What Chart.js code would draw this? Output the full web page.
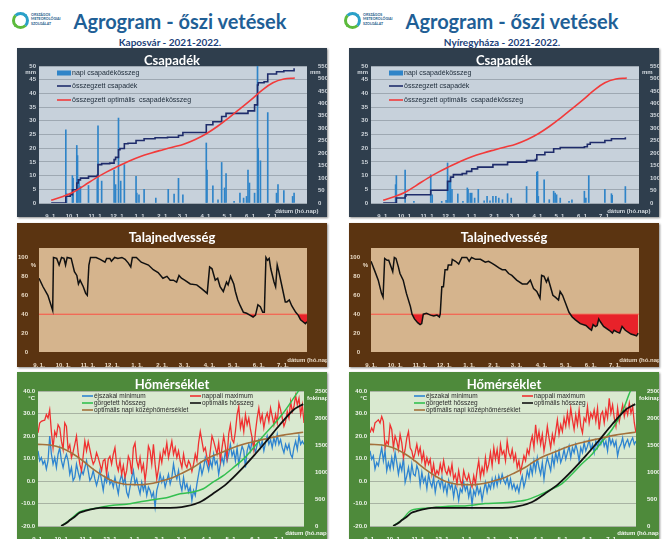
<!DOCTYPE html>
<html>
<head>
<meta charset="utf-8">
<script src="https://cdn.jsdelivr.net/npm/chart.js@4.4.1/dist/chart.umd.min.js"></script>
<style>
  body { margin: 0; background: #fff; width: 662px; height: 539px; overflow: hidden; position: relative; font-family: Lato, 'Liberation Sans', sans-serif; }
  .panel { position: absolute; box-shadow: 1px 1px 2px rgba(0,0,0,0.45); }
  .panel canvas { position: absolute; left: 0; top: 0; }
  .ptitle { position: absolute; left: 0; width: 100%; text-align: center; color: #fff; font-weight: bold; font-size: 13px; line-height: 16px; }
  .title { position: absolute; width: 300px; text-align: center; color: #1f5f96; font-weight: bold; font-size: 20px; line-height: 24px; top: 9px; }
  .sub { position: absolute; width: 200px; text-align: center; color: #1b3f78; font-weight: bold; font-size: 10px; line-height: 12px; top: 36px; }
  .logo { position: absolute; top: 12px; }
  .logo .swirl { position: absolute; left: 0; top: 0; width: 11px; height: 11px; border-radius: 50%; border: 3px solid #2aa0c8; border-left-color: #5cba3c; border-bottom-color: #5cba3c; }
  .logo .txt { position: absolute; left: 19px; top: 1px; width: 40px; font-size: 3.6px; line-height: 4.3px; color: #1d5c8a; font-weight: bold; }
</style>
</head>
<body>
<script>
// x axis: days from 1 September
const monthDays = [0, 30, 61, 91, 122, 153, 181, 212, 242, 273, 303];
const monthLabels = ['9. 1.', '10. 1.', '11. 1.', '12. 1.', '1. 1.', '2. 1.', '3. 1.', '4. 1.', '5. 1.', '6. 1.', '7. 1.'];
const lastDay = 333;
const dateAxisLabel = 'dátum (hó.nap)';

// Csapadék - napi csapadékösszeg [nap, mm]
const kaposvarRain = [[20,26.7],[21,3.5],[29,10],[30,9],[35,21],[36,17.3],[38,8.5],[40,6],[51,6.4],[63,8.5],[64,28.2],[69,8],
  [86,12],[88,6.7],[92,31],[95,8],[100,14],[116,9.7],[117,3.6],[120,3],[127,5],[143,1.8],[160,5],[168,3.3],[174,9],[180,3],
  [212,21.9],[213,12],[221,6.3],[228,1.2],[233,14.8],[237,5.5],[239,10.7],[250,0.6],[258,3.6],[263,1.8],[267,2.4],[269,12],
  [271,7.3],[278,3.6],[282,68],[283,20],[286,15.4],[296,33],[308,3.6],[310,6.7],[318,4.5],[330,2.4],[332,3.6]];
const nyiregyhazaRain = [[17,6.7],[18,10],[30,12],[42,0.6],[65,10.3],[67,3],[80,0.6],[86,1],[88,14.6],[90,7.5],[92,9],[94,5],
  [102,3.3],[109,0.6],[115,5.5],[116,5],[119,3.6],[121,3.6],[125,1.8],[130,5],[138,0.8],[142,2.4],[146,0.8],[150,2.4],[154,2.4],
  [158,1.8],[163,1.2],[170,3.4],[175,1.8],[196,6],[210,11.2],[211,11.5],[212,2.4],[220,8.5],[227,1.2],[233,4.3],[235,3.6],
  [237,3],[242,1.8],[254,0.6],[258,1.2],[275,4.3],[277,1.8],[281,10],[303,5],[312,3.4],[313,2.8],[331,6]];

// összegzett csapadék [nap, mm]
const kaposvarRainSum = [[0,0],[19,0],[20,27],[26,33],[29,53],[35,80],[37,93],[40,100],[51,107],[63,111],[64,154],[69,158],
  [80,160],[86,174],[88,183],[92,214],[94,219],[100,238],[105,240],[116,251],[127,258],[142,262],[159,264],[174,271],[180,283],
  [208,283],[212,314],[221,326],[233,347],[239,360],[258,360],[269,370],[278,394],[282,474],[283,483],[291,487],[296,518],
  [308,527],[318,531],[332,541]];
const nyiregyhazaRainSum = [[0,0],[16,0],[18,20],[30,27],[31,33],[63,33],[65,51],[86,51],[88,87],[92,104],[96,114],[108,118],
  [114,127],[121,137],[129,144],[150,154],[170,164],[196,170],[208,174],[210,194],[221,204],[233,218],[242,223],[275,226],
  [279,236],[283,243],[303,251],[312,258],[331,264]];

// összegzett optimális csapadékösszeg [nap, mm]
const optimalRainSum = [[0,11],[15,25],[30,43],[45,70],[61,100],[76,125],[91,147],[106,168],[122,187],[137,201],[153,214],
  [167,225],[181,236],[197,255],[212,278],[227,307],[242,340],[258,378],[273,414],[288,452],[303,483],[318,498],[333,502]];

// Talajnedvesség [nap, %]
const kaposvarSoil = [[0,78],[5,69],[11,60],[17,44],[18,100],[22,99],[25,92],[28,100],[31,99],[33,92],[35,100],[40,99],[44,85],
  [47,81],[49,72],[51,76],[55,69],[58,62],[60,60],[62,92],[64,100],[71,100],[76,98],[82,95],[84,99],[88,99],[90,96],[94,100],
  [98,99],[103,100],[107,98],[111,94],[114,90],[116,100],[121,100],[127,95],[136,92],[142,87],[148,84],[154,78],[159,80],
  [163,76],[167,76],[171,74],[174,81],[177,78],[181,76],[188,72],[196,71],[202,67],[209,62],[212,90],[215,88],[219,76],
  [222,78],[225,69],[229,64],[233,74],[235,71],[238,80],[242,72],[244,64],[247,55],[250,49],[254,42],[258,41],[262,39],
  [266,37],[269,39],[272,50],[275,48],[278,42],[280,42],[282,100],[284,97],[286,99],[288,88],[292,74],[294,69],[296,92],
  [298,85],[302,69],[306,53],[308,53],[311,55],[314,49],[319,42],[322,39],[325,34],[328,32],[331,30],[333,32]];
const nyiregyhazaSoil = [[0,96],[5,85],[9,76],[13,62],[15,58],[17,99],[20,97],[22,97],[25,90],[27,85],[29,100],[31,99],[34,90],
  [36,83],[40,76],[44,62],[49,48],[51,40],[54,35],[58,31],[61,29],[63,30],[65,40],[69,41],[74,39],[78,38],[82,39],[85,37],
  [86,40],[88,69],[90,69],[92,87],[95,87],[96,92],[100,92],[101,98],[105,96],[109,93],[113,100],[119,100],[122,96],[125,100],
  [130,98],[136,98],[142,95],[146,96],[150,94],[154,92],[159,89],[163,87],[167,87],[171,83],[175,81],[181,76],[188,72],
  [194,72],[198,76],[202,67],[206,64],[210,57],[212,81],[215,80],[218,74],[220,78],[223,69],[226,60],[229,58],[233,55],
  [235,64],[238,60],[242,51],[246,42],[250,37],[254,34],[260,30],[267,28],[271,25],[274,23],[276,29],[279,27],[281,28],
  [283,35],[285,32],[289,27],[296,23],[300,20],[302,23],[306,21],[309,20],[312,27],[316,23],[323,19],[327,18],[330,17],[332,20]];
const soilLimit = 40;

// Hőmérséklet - napi értékek (kb. kétnaponta) [°C]
const kaposvarMax = [21.4,25.8,26.5,26.8,27,29.5,28,31.6,22,14.8, 22,20,25,23.6,17.7,14,25.8,24.3,14,16,
  10.4,13,16.3,20,12.6,7.5,4.6,11,17.7,13.4, 17.5,14,10.4,7.5,9,12.6,10.4,7.5,4.6,9,
  9.7,3,9.7,11,7.5,11.9,14.8,7.5,4.6,9, 3,6.8,1.6,4.6,11,9,3,14.8,16.9,9,
  6,10.4,4.6,7.5,0.2,6,15.5,13.4,7.5,16.3, 7.5,0.9,5.3,11.9,8.2,14,11.9,16.9,10.4,14,
  17.7,11.9,14.8,10.4,13.4,9,6,11.9,7.5,6, 9,7.5,4.3,7.5,11.9,9,17,22,17.7,13.4,
  14.8,10.4,7.5,13.4,20,17.7,14.8,11.9,17,9, 14.8,20,15.5,10.4,21,25,18.4,17,22,29.5,
  33,23.6,27.2,22,29.5,25,28,22.9,19.2,14, 22,28,32.4,26.5,29.5,23.6,28,30.2,26.5,32.4,
  28.7,25,29.5,25.8,34.6,31.6,28,24.3,26.5,30.9, 28,35.3,30.9,33.1,38,33.8,36.8,29.5,33.8,25.8];
const kaposvarMin = [13.4,9,10.4,7.5,9,5.3,9,20,12,7.5, 10.4,6,11.9,14.8,9,6,9.7,11.9,9,3,
  6,0.2,1.6,7.5,3.9,0.9,4.6,3,6,9, 4.6,0.2,1.6,4.6,0.9,-2,0.9,4.6,0.2,-4.2,
  1.6,-0.6,3,-1.3,0.2,-2.7,1.6,-2,-5.7,0.2, 3,-1.3,1.6,-5,-7,-2.7,1.6,4.6,-1.3,0.9,
  -2.7,-5.7,-0.6,-4.2,-1.3,-6.4,-2.7,-4.2,-7.1,-5, -11.5,-4.2,-1.3,3,-0.6,1.6,-2.7,0.2,3,-1.3,
  1.6,7.5,3,0.9,4.6,-1.3,-4.2,1.6,-3.4,-1.3, -5,-2.7,-8.6,-4.2,-6.4,-1.3,3,7.5,3,6,
  10.4,7.5,4.6,9,6,11.9,7.5,9,3,7.5, 10.4,7.5,13.4,9,11.9,16.3,11.2,13.4,9,14.8,
  7.5,11.9,15.5,13.4,6,13.4,16.3,13.4,18.4,15.5, 12.6,16.3,18.4,14.8,17.7,13.4,17,20,16.3,18.4,
  14.8,19.2,16.3,20.7,16.3,18.4,14.8,12.6,16.3,14, 16.3,11.9,10.4,14.8,17.7,14,20,16.3,17.7,16.3];
const nyiregyhazaMax = [21.4,23.6,22,25.8,26.5,27.2,25.8,28.7,26.5,14.8, 17.7,16.3,25,22.9,14.8,20,17.7,14,20.7,17,
  10.4,14,19.2,22,14.8,13.4,9.7,12.6,16.3,11.9, 14.8,9,12.6,6.8,10.4,7.5,9.7,3,7.5,2.3,
  4.6,3,7.5,3.9,9,4.6,3,6,3,7.5, 0.9,3,-1.3,4.6,0.2,-2,4.6,1.6,0.2,3,
  -0.6,-2.7,2.3,-1.3,4.6,9,1.6,6,3,10.4, 4.6,7.5,12.6,6.8,14.8,9.7,14,7.5,16.3,11.9,
  13.4,9,17.7,12.6,10.4,14,9,11.9,6,9, 3.9,7.5,11.2,9,14,11.9,17,20,14.8,25,
  17.7,22,16.3,20.7,13.4,17.7,24.3,19.2,14.8,20.7, 17,22,27.2,20.7,25,22,28,24.3,30.2,25,
  32.4,27.2,22.9,29.5,25,31.6,24.3,21.4,28,26.5, 33,25.8,30.2,28,31.6,26.5,32.4,22.9,29.5,30.9,
  25.8,31.6,28,36.8,30.2,33.8,28,24.3,32.4,26.5, 30.2,33.8,28.7,32.4,29.5,34.6,30.2,33.1,25.8,21.4];
const nyiregyhazaMin = [13.4,9.7,11.2,5.3,8.2,6.8,11.2,14.8,9,13.4, 4.6,8.2,5.3,10.4,6,12.6,8.2,3,7.5,4.6,
  10.4,-0.6,2.3,6,0.9,7.5,3,2.3,6.8,4.6, -2,3.9,-0.6,1.6,-3.4,3,-0.6,-2.7,1.6,-5,
  -0.6,0.2,-2.7,1.6,-4.2,-1.3,-5.7,0.2,-3.4,-1.3, -7.1,-2,-4.2,-8.6,-3.4,-5,-0.6,-4.2,-2,-7.1,
  -3.4,-10.4,-4.2,-6.4,-2,-5.7,-3.4,-8.6,-4.2,-0.6, -5,-1.3,-3.4,0.9,-2.7,1.6,-2,2.3,-0.6,3,
  0.2,-1.3,1.6,-2.7,0.9,-3.4,-1.3,-4.2,-2,-5, -0.6,2.3,-2.7,0.2,4.6,1.6,6.8,3,9,4.6,
  10.4,6,3,8.2,0.9,6.8,10.4,7.5,4.6,11.2, 6.8,12.6,9,13.4,8.2,10.4,14,9.7,12.6,15.5,
  10.4,14.8,12.6,16.3,13.4,9,14.8,12.6,17,13.4, 15.5,18.4,14,16.3,12.6,17.7,14.8,18.4,16.3,19.2,
  15.5,17.7,13.4,20,16.3,18.4,15.5,17.7,11.2,14.8, 16.3,19.2,14.8,17,18.4,15.5,17.7,19.2,16.3,17.7];

// optimális napi középhőmérséklet [nap, °C]
const optimalMeanTemp = [[0,16.3],[15,16],[29,14.8],[44,12],[56,9],[69,5.3],[81,2.4],[94,-0.1],[107,-1.3],[119,-1.6],
  [132,-1.6],[144,-1],[157,0.2],[169,1.6],[182,3.8],[194,6],[207,9],[219,11.2],[232,13],[244,14.8],[257,16.3],[270,17.5],
  [282,18.5],[295,19.5],[307,20.4],[320,21.1],[332,21.7]];
// hősszeg [nap, fokinap]
const optimalHeatSum = [[29,0],[36,60],[40,110],[46,170],[52,244],[59,280],[65,305],[77,336],[94,336],[144,336],[173,340],
  [186,366],[203,445],[219,598],[236,781],[253,1025],[270,1299],[286,1574],[303,1879],[320,2153],[332,2257]];
const kaposvarHeatSum = [[29,0],[40,115],[52,262],[65,311],[77,342],[94,384],[111,403],[127,445],[144,488],[161,525],
  [178,598],[194,628],[207,689],[219,811],[232,933],[245,1086],[257,1238],[270,1452],[282,1665],[295,1879],[307,2092],
  [320,2367],[326,2500],[333,2640]];
const nyiregyhazaHeatSum = [[29,0],[40,115],[52,293],[77,336],[98,366],[119,372],[144,415],[161,427],[178,445],[194,476],
  [211,567],[224,659],[240,781],[253,964],[265,1147],[278,1330],[291,1574],[303,1787],[316,2123],[326,2500],[332,2650]];

const toXY = arr => arr.map(p => ({ x: p[0], y: p[1] }));
const dailyXY = vals => vals.map((v, i) => ({ x: i * lastDay / (vals.length - 1), y: v }));

Chart.defaults.font.family = "'Liberation Sans', Arial, sans-serif";
Chart.defaults.animation = false;

const plotBg = {
  id: 'plotBg',
  beforeDraw(chart, args, opts) {
    const a = chart.chartArea, ctx = chart.ctx;
    ctx.save();
    ctx.fillStyle = opts.color;
    ctx.fillRect(a.left, a.top, a.width, a.height);
    ctx.restore();
  }
};

const axisNotes = {
  id: 'axisNotes',
  afterDraw(chart, args, opts) {
    const ctx = chart.ctx;
    ctx.save();
    ctx.font = 'bold 6px ' + Chart.defaults.font.family;
    ctx.fillStyle = opts.color;
    ctx.textBaseline = 'middle';
    (opts.items || []).forEach(n => {
      const s = chart.scales[n.scale];
      let x, y;
      if (n.scale === 'x') {
        x = s.getPixelForValue(n.value) + n.dx; y = s.top + n.dy; ctx.textAlign = 'center';
      } else if (s.position === 'left') {
        x = s.right - 3; y = s.getPixelForValue(n.value) + n.dy; ctx.textAlign = 'right';
      } else {
        x = s.left + 3; y = s.getPixelForValue(n.value) + n.dy; ctx.textAlign = 'left';
      }
      ctx.fillText(n.text, x, y);
    });
    ctx.restore();
  }
};

const insideLegend = {
  id: 'insideLegend',
  afterDatasetsDraw(chart, args, opts) {
    if (!opts.items) return;
    const ctx = chart.ctx, a = chart.chartArea;
    ctx.save();
    ctx.font = opts.font;
    ctx.textBaseline = 'middle';
    ctx.textAlign = 'left';
    opts.items.forEach(it => {
      const ds = chart.data.datasets[it.index];
      const x = a.left + it.x, y = a.top + it.y;
      if (ds.type === 'bar') {
        ctx.fillStyle = ds.backgroundColor;
        ctx.fillRect(x, y - 2.5, opts.boxWidth, 5);
      } else {
        ctx.strokeStyle = ds.borderColor;
        ctx.lineWidth = 1.6;
        ctx.beginPath(); ctx.moveTo(x, y); ctx.lineTo(x + opts.boxWidth, y); ctx.stroke();
      }
      ctx.fillStyle = opts.color;
      ctx.fillText(ds.label, x + opts.boxWidth + 1, y);
    });
    ctx.restore();
  }
};

const tickFont = { size: 6, weight: 'bold' };

function dateAxis(color) {
  return {
    type: 'linear', min: 0, max: lastDay,
    grid: { display: false }, border: { display: false },
    afterBuildTicks: s => { s.ticks = monthDays.map(v => ({ value: v })); },
    afterFit: s => { s.height = s.options._h; },
    ticks: { autoSkip: false, maxRotation: 0, padding: 2, color, font: tickFont,
      callback: (v, i) => monthLabels[i] }
  };
}

function addPanel(left, top, w, h, bg, title, titleTop) {
  const d = document.createElement('div');
  d.className = 'panel';
  d.style.cssText = `left:${left}px;top:${top}px;width:${w}px;height:${h}px;background:${bg}`;
  const c = document.createElement('canvas');
  c.width = w; c.height = h;
  c.style.width = w + 'px'; c.style.height = h + 'px';
  d.appendChild(c);
  const t = document.createElement('div');
  t.className = 'ptitle'; t.style.top = titleTop + 'px'; t.textContent = title;
  d.appendChild(t);
  document.body.appendChild(d);
  return c;
}

function addHeader(left, station) {
  const lg = document.createElement('div');
  lg.className = 'logo'; lg.style.left = (left - 5) + 'px';
  lg.innerHTML = '<div class="swirl"></div><div class="txt">ORSZÁGOS<br>METEOROLÓGIAI<br>SZOLGÁLAT</div>';
  document.body.appendChild(lg);
  const t = document.createElement('div');
  t.className = 'title'; t.style.left = (left + 13) + 'px'; t.textContent = 'Agrogram - őszi vetések';
  document.body.appendChild(t);
  const s = document.createElement('div');
  s.className = 'sub'; s.style.left = (left + 53) + 'px'; s.textContent = station;
  document.body.appendChild(s);
}

function rainChart(left, rain, rainSum) {
  const c = addPanel(left, 48, 310, 169, '#2f3e4d', 'Csapadék', 4);
  const tick = '#d3d9df';
  const x = dateAxis(tick); x._h = 14;
  new Chart(c, {
    type: 'bar',
    data: { datasets: [
      { type: 'bar', label: 'napi csapadékösszeg', data: toXY(rain), yAxisID: 'y', backgroundColor: '#2f84c8', barThickness: 1, order: 3 },
      { type: 'line', label: 'összegzett csapadék', data: toXY(rainSum), yAxisID: 'y1', borderColor: '#1f2c6b', borderWidth: 1.6, stepped: true, pointRadius: 0, order: 2 },
      { type: 'line', label: 'összegzett optimális  csapadékösszeg', data: toXY(optimalRainSum), yAxisID: 'y1', borderColor: '#f23a3a', borderWidth: 1.6, tension: 0.4, pointRadius: 0, order: 1 }
    ] },
    options: {
      responsive: false, devicePixelRatio: 1,
      layout: { padding: { top: 18, left: 0, right: 0, bottom: 0 } },
      scales: {
        x,
        y: { position: 'left', min: 0, max: 50, afterFit: s => { s.width = 22; },
          grid: { color: '#9ea8b2', drawTicks: false }, border: { display: false },
          ticks: { stepSize: 5, padding: 3, color: tick, font: tickFont } },
        y1: { position: 'right', min: 0, max: 550, afterFit: s => { s.width = 20; },
          grid: { display: false }, border: { display: false },
          ticks: { stepSize: 50, padding: 3, color: tick, font: tickFont } }
      },
      plugins: {
        legend: { display: false }, tooltip: { enabled: false },
        plotBg: { color: '#c7d1db' },
        insideLegend: { font: '7px ' + Chart.defaults.font.family, color: '#1c2a38', boxWidth: 14,
          items: [{ index: 0, x: 18, y: 7 }, { index: 1, x: 18, y: 20 }, { index: 2, x: 18, y: 34 }] },
        axisNotes: { color: tick, items: [
          { scale: 'y', value: 50, dy: 6, text: 'mm' }, { scale: 'y1', value: 550, dy: 6, text: 'mm' },
          { scale: 'x', value: lastDay, dx: 2, dy: 8, text: dateAxisLabel }] }
      }
    },
    plugins: [plotBg, insideLegend, axisNotes]
  });
}

function soilChart(left, soil) {
  const c = addPanel(left, 223, 310, 144, '#5b3411', 'Talajnedvesség', 6);
  const tick = '#eadbc6';
  const x = dateAxis(tick); x._h = 15;
  new Chart(c, {
    type: 'line',
    data: { datasets: [
      { label: 'határérték', data: [{ x: 0, y: soilLimit }, { x: lastDay, y: soilLimit }], borderColor: '#f27c62', borderWidth: 1.6, pointRadius: 0, order: 2 },
      { label: 'talajnedvesség', data: toXY(soil), borderColor: '#111', borderWidth: 1.5, pointRadius: 0, order: 1,
        fill: { target: { value: soilLimit }, above: 'rgba(0,0,0,0)', below: '#e8222a' } }
    ] },
    options: {
      responsive: false, devicePixelRatio: 1,
      layout: { padding: { top: 25, left: 0, right: 20, bottom: 0 } },
      scales: {
        x,
        y: { position: 'left', min: 0, max: 110, afterFit: s => { s.width = 22; },
          afterBuildTicks: s => { s.ticks = [0, 20, 40, 60, 80, 100].map(v => ({ value: v })); },
          grid: { display: false }, border: { display: false },
          ticks: { padding: 3, color: tick, font: tickFont } }
      },
      plugins: {
        legend: { display: false }, tooltip: { enabled: false },
        plotBg: { color: '#d5b48d' },
        axisNotes: { color: tick, items: [
          { scale: 'y', value: 100, dy: 8, text: '%' },
          { scale: 'x', value: lastDay, dx: 2, dy: 8, text: dateAxisLabel }] }
      }
    },
    plugins: [plotBg, axisNotes]
  });
}

function tempChart(left, tmin, tmax, heat) {
  const c = addPanel(left, 372, 310, 167, '#4e8a3b', 'Hőmérséklet', 4);
  const tick = '#f2f6ef';
  const x = dateAxis(tick); x._h = 13;
  new Chart(c, {
    type: 'line',
    data: { datasets: [
      { label: 'éjszakai minimum', data: dailyXY(tmin), yAxisID: 'y', borderColor: '#2e84d0', borderWidth: 1.3, pointRadius: 0, order: 5 },
      { label: 'nappali maximum', data: dailyXY(tmax), yAxisID: 'y', borderColor: '#f03030', borderWidth: 1.3, pointRadius: 0, order: 4 },
      { label: 'görgetett hősszeg', data: toXY(heat), yAxisID: 'y1', borderColor: '#33bf4f', borderWidth: 1.5, tension: 0.3, pointRadius: 0, order: 3 },
      { label: 'optimális hősszeg', data: toXY(optimalHeatSum), yAxisID: 'y1', borderColor: '#111', borderWidth: 1.8, tension: 0.3, pointRadius: 0, order: 1 },
      { label: 'optimális napi középhőmérséklet', data: toXY(optimalMeanTemp), yAxisID: 'y', borderColor: '#a4713c', borderWidth: 1.6, tension: 0.4, pointRadius: 0, order: 2 }
    ] },
    options: {
      responsive: false, devicePixelRatio: 1,
      layout: { padding: { top: 19, left: 0, right: 0, bottom: 0 } },
      scales: {
        x,
        y: { position: 'left', min: -20, max: 40, afterFit: s => { s.width = 21; },
          grid: { color: '#a8b3a3', drawTicks: false }, border: { display: false },
          ticks: { stepSize: 10, padding: 3, color: tick, font: tickFont, callback: v => v.toFixed(1) } },
        y1: { position: 'right', min: 0, max: 2500, afterFit: s => { s.width = 23; },
          grid: { display: false }, border: { display: false },
          ticks: { stepSize: 500, padding: 3, color: tick, font: tickFont, callback: v => String(v) } }
      },
      plugins: {
        legend: { display: false }, tooltip: { enabled: false },
        plotBg: { color: '#d9e9d0' },
        insideLegend: { font: '6.5px ' + Chart.defaults.font.family, color: '#2a2a2a', boxWidth: 11,
          items: [{ index: 0, x: 44, y: 5 }, { index: 1, x: 152, y: 5 }, { index: 2, x: 44, y: 12 },
                  { index: 3, x: 152, y: 12 }, { index: 4, x: 44, y: 19 }] },
        axisNotes: { color: tick, items: [
          { scale: 'y', value: 40, dy: 7, text: '°C' }, { scale: 'y1', value: 2500, dy: 7, text: 'fokinap' },
          { scale: 'x', value: lastDay, dx: 3, dy: 7, text: dateAxisLabel }] }
      }
    },
    plugins: [plotBg, insideLegend, axisNotes]
  });
}

addHeader(17, 'Kaposvár - 2021-2022.');
addHeader(349, 'Nyíregyháza - 2021-2022.');
rainChart(17, kaposvarRain, kaposvarRainSum);
rainChart(349, nyiregyhazaRain, nyiregyhazaRainSum);
soilChart(17, kaposvarSoil);
soilChart(349, nyiregyhazaSoil);
tempChart(17, kaposvarMin, kaposvarMax, kaposvarHeatSum);
tempChart(349, nyiregyhazaMin, nyiregyhazaMax, nyiregyhazaHeatSum);
</script>
</body>
</html>
